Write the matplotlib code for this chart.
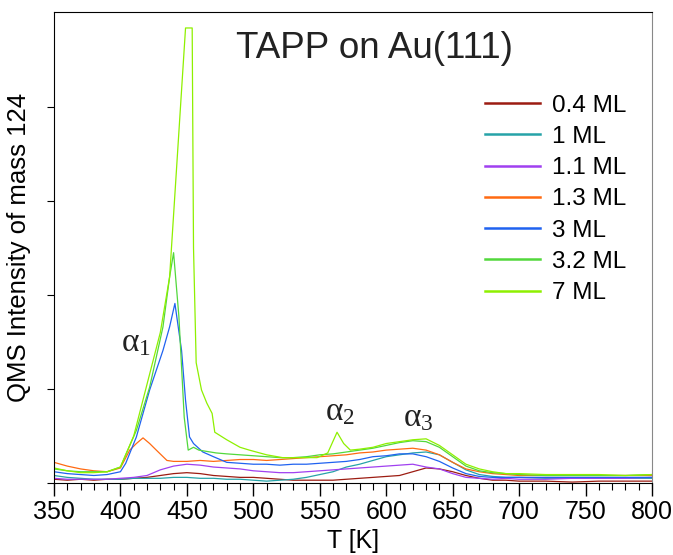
import matplotlib.pyplot as plt

plt.rcParams['font.family'] = ['Liberation Sans', 'DejaVu Sans']
plt.rcParams['mathtext.fontset'] = 'custom'
plt.rcParams['mathtext.rm'] = 'Liberation Serif'
plt.rcParams['mathtext.it'] = 'Liberation Serif'

# coverages shown in the legend
labels = ['0.4 ML', '1 ML', '1.1 ML', '1.3 ML', '3 ML', '3.2 ML', '7 ML']
colors = ['#9c1c12', '#26a3a8', '#a040f0', '#ff6a12', '#2062f0', '#52d83c', '#8ef000']

# common temperature grid (K)
T = [350, 360, 370, 380, 390, 400, 410, 420, 430, 440, 450, 460, 470, 480, 490,
     500, 510, 520, 530, 540, 550, 560, 570, 580, 590, 600, 610, 620, 630, 640,
     650, 660, 670, 680, 690, 700, 720, 740, 760, 780, 800]

ml04 = [0.04, 0.03, 0.04, 0.03, 0.04, 0.04, 0.05, 0.06, 0.08, 0.10, 0.11, 0.10, 0.08, 0.07, 0.06,
        0.06, 0.05, 0.04, 0.03, 0.03, 0.03, 0.03, 0.04, 0.05, 0.06, 0.07, 0.08, 0.12, 0.16, 0.15,
        0.12, 0.08, 0.05, 0.03, 0.03, 0.02, 0.02, 0.01, 0.02, 0.02, 0.02]
ml1 = [0.08, 0.06, 0.05, 0.04, 0.04, 0.04, 0.05, 0.05, 0.05, 0.06, 0.06, 0.05, 0.05, 0.04, 0.04,
       0.03, 0.02, 0.03, 0.04, 0.06, 0.09, 0.12, 0.17, 0.20, 0.24, 0.28, 0.30, 0.32, 0.33, 0.30,
       0.22, 0.14, 0.09, 0.07, 0.06, 0.06, 0.05, 0.05, 0.05, 0.05, 0.05]
ml11 = [0.05, 0.04, 0.04, 0.04, 0.04, 0.05, 0.06, 0.08, 0.14, 0.18, 0.20, 0.19, 0.17, 0.16, 0.15,
        0.13, 0.12, 0.11, 0.11, 0.12, 0.13, 0.14, 0.15, 0.16, 0.17, 0.18, 0.19, 0.20, 0.17, 0.15,
        0.10, 0.06, 0.05, 0.04, 0.05, 0.04, 0.04, 0.05, 0.05, 0.05, 0.06]

T_13 = [350, 360, 370, 380, 390, 400, 407, 412, 417, 422, 427, 435, 440, 450, 460, 470, 480, 490,
        500, 510, 520, 530, 540, 550, 560, 570, 580, 590, 600, 610, 620, 630, 640,
        650, 660, 670, 680, 690, 700, 720, 740, 760, 780, 800]
ml13 = [0.22, 0.18, 0.15, 0.13, 0.12, 0.16, 0.35, 0.42, 0.48, 0.42, 0.35, 0.24, 0.23, 0.23, 0.24, 0.23, 0.24, 0.25,
        0.25, 0.24, 0.25, 0.26, 0.27, 0.28, 0.29, 0.30, 0.32, 0.33, 0.35, 0.36, 0.37, 0.35, 0.30,
        0.22, 0.15, 0.12, 0.10, 0.09, 0.08, 0.08, 0.08, 0.08, 0.08, 0.08]

T_3 = [350, 360, 370, 380, 390, 400, 404, 412, 422, 432, 437, 441, 446, 449, 452, 455, 462, 470,
       480, 490, 500, 510, 520, 530, 540, 550, 560, 570, 580, 590, 600, 610, 620, 630, 640,
       650, 660, 670, 680, 690, 700, 720, 740, 760, 780, 800]
ml3 = [0.12, 0.10, 0.09, 0.08, 0.09, 0.12, 0.21, 0.49, 0.99, 1.41, 1.66, 1.91, 1.41, 0.88, 0.49, 0.42, 0.33, 0.28,
       0.22, 0.21, 0.20, 0.20, 0.19, 0.20, 0.20, 0.21, 0.22, 0.23, 0.25, 0.28, 0.29, 0.31, 0.31, 0.28, 0.23,
       0.16, 0.10, 0.07, 0.06, 0.06, 0.06, 0.06, 0.06, 0.06, 0.06, 0.06]

T_32 = [350, 360, 370, 380, 390, 400, 412, 422, 432, 437, 440, 444, 448, 451, 455, 459, 472,
        480, 490, 500, 510, 520, 530, 540, 550, 560, 570, 580, 590, 600, 610, 620, 630, 640,
        650, 660, 670, 680, 690, 700, 720, 740, 760, 780, 800]
ml32 = [0.15, 0.13, 0.12, 0.12, 0.12, 0.17, 0.56, 1.02, 1.66, 2.19, 2.45, 1.77, 0.70, 0.35, 0.38, 0.35, 0.32,
        0.31, 0.30, 0.29, 0.28, 0.27, 0.27, 0.28, 0.30, 0.31, 0.33, 0.35, 0.37, 0.40, 0.43, 0.45, 0.44, 0.38,
        0.28, 0.18, 0.13, 0.11, 0.10, 0.09, 0.08, 0.08, 0.08, 0.08, 0.09]

T_7 = [350, 360, 370, 380, 390, 400, 410, 420, 430, 437, 449, 454, 455, 457, 461, 465, 469, 471,
       480, 490, 497, 510, 522, 535, 548, 556, 563, 568, 573, 580, 590, 600, 610, 620, 630, 640,
       650, 660, 670, 680, 690, 700, 720, 740, 760, 780, 800]
ml7 = [0.16, 0.13, 0.11, 0.11, 0.12, 0.17, 0.50, 1.05, 1.60, 2.19, 4.84, 4.84, 2.50, 1.28, 0.99, 0.85, 0.74, 0.54,
       0.46, 0.38, 0.35, 0.30, 0.27, 0.27, 0.27, 0.32, 0.54, 0.42, 0.35, 0.36, 0.38, 0.42, 0.44, 0.46, 0.47, 0.40,
       0.30, 0.20, 0.15, 0.12, 0.10, 0.10, 0.09, 0.09, 0.09, 0.08, 0.09]

xs = [T, T, T, T_13, T_3, T_32, T_7]
ys = [ml04, ml1, ml11, ml13, ml3, ml32, ml7]

fig = plt.figure(figsize=(6.73, 5.55), dpi=100)
ax = fig.add_axes([0.0802, 0.1297, 0.8886, 0.8487])

for x, y, c, l in zip(xs, ys, colors, labels):
    ax.plot(x, y, color=c, lw=0.9, label=l)

ax.set_xlim(350, 800)
ax.set_ylim(0, 5.01)
ax.set_xticks(range(350, 801, 50))
ax.set_xticks(range(350, 801, 10), minor=True)
ax.set_yticks([0, 1, 2, 3, 4])
ax.set_yticklabels([])
ax.tick_params(axis='x', which='major', direction='out', length=9, width=1, labelsize=18, pad=3)
ax.tick_params(axis='x', which='minor', direction='out', length=5, width=0.8)
ax.tick_params(axis='y', direction='out', length=5, width=0.8)
ax.spines['right'].set_color('#888888')
ax.set_xlabel('T [K]', fontsize=18, labelpad=4)
ax.set_ylabel('QMS Intensity of mass 124', fontsize=18.5, labelpad=8)

ax.text(0.5365, 0.9215, 'TAPP on Au(111)', transform=ax.transAxes, fontsize=26.5,
        ha='center', va='center', color='#222222')

# peak assignments
ax.text(412, 1.49, r'$\mathrm{\alpha_1}$', fontsize=24, ha='center', va='center', color='#222222')
ax.text(565, 0.76, r'$\mathrm{\alpha_2}$', fontsize=24, ha='center', va='center', color='#222222')
ax.text(624, 0.69, r'$\mathrm{\alpha_3}$', fontsize=24, ha='center', va='center', color='#222222')

leg = ax.legend(loc='upper left', bbox_to_anchor=(0.7207, 0.8244), frameon=False,
                fontsize=17.5, handlelength=2.25, handletextpad=0.5, labelspacing=0.38,
                borderpad=0, borderaxespad=0)
for h in leg.get_lines():
    h.set_linewidth(1.8)

fig.savefig('out.png', dpi=100)
